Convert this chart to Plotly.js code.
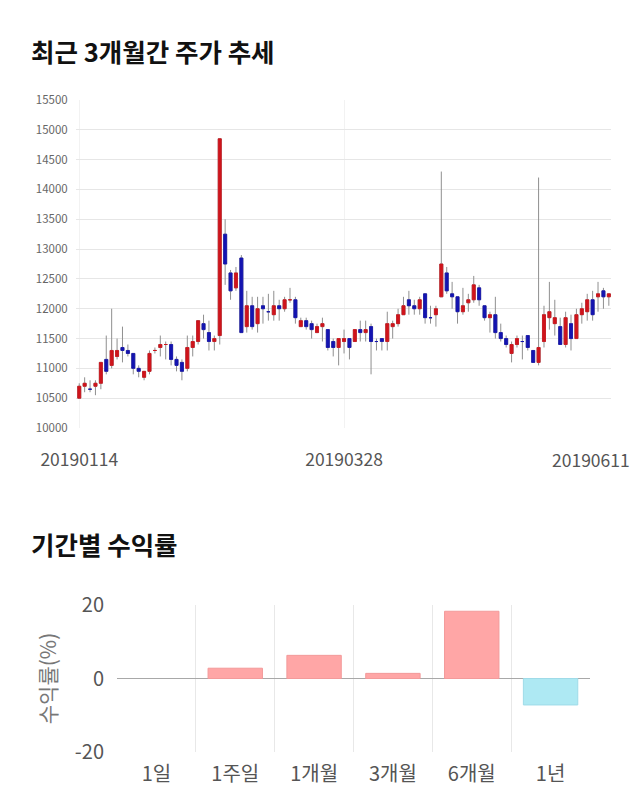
<!DOCTYPE html>
<html>
<head>
<meta charset="utf-8">
<script src="https://cdn.plot.ly/plotly-3.0.1.min.js"></script>
<style>
html,body{margin:0;padding:0;background:#fff;}
#chart{width:640px;height:810px;}
</style>
</head>
<body>
<div id="chart"></div>
<script>
// ---- Price chart data (KRW) ----
const tickLabels = ['20190114', '20190328', '20190611'];
const opens  = [10500,10700,10650,10700,10750,11150,11050,11200,11350,11300,
                11250,11000,10850,10950,11300,11350,11400,11400,11150,11100,
                11000,11350,11450,11750,11600,11450,11550,13250,12600,12350,
                12850,11700,12050,11750,12050,11950,11900,12050,12000,12150,
                12150,11700,11800,11750,11600,11700,11650,11450,11350,11450,
                11500,11450,11650,11600,11700,11450,11500,11450,11700,11750,
                11900,12150,12050,12000,12250,11850,11900,12200,12600,12250,
                12200,11950,12100,12150,12350,12050,11850,11900,11600,11500,
                11250,11400,11450,11550,11300,11100,11450,11850,11750,11700,
                11400,11750,11500,11900,11950,12150,12200,12300,12200];
const highs  = [10750,10850,10800,10800,11100,11550,12000,11500,11700,11400,
                11250,11050,10950,11300,11350,11550,11450,11450,11200,11150,
                11550,11550,11800,11900,11800,11550,14850,13500,12650,12700,
                12900,12300,12200,12200,12200,12250,12300,12150,12200,12350,
                12200,11850,11850,11800,11750,11850,11650,11500,11500,11650,
                11500,11650,11800,11800,11750,11500,11500,11950,11800,12000,
                12200,12300,12150,12200,12250,12050,12050,14300,12700,12450,
                12200,12350,12250,12550,12400,12050,11950,12200,11750,11550,
                11450,11550,11550,11550,11300,14200,12050,12450,12150,11850,
                11950,11900,12000,12100,12250,12300,12450,12350,12250];
const lows   = [10500,10600,10600,10550,10650,10900,11000,11150,11100,11200,
                10900,10850,10800,10900,11250,11200,11150,11050,10950,10800,
                10950,11200,11400,11500,11300,11300,11400,12400,12150,12300,
                11600,11600,11650,11600,11750,11800,11800,11800,11950,12100,
                11750,11700,11650,11500,11600,11450,11300,11200,11050,11250,
                11150,11450,11450,11450,10900,11300,11300,11300,11500,11700,
                11900,11900,11900,11900,11750,11750,11700,12200,12250,12000,
                11750,11900,11950,12100,12050,11800,11600,11500,11450,11350,
                11100,11350,11150,11300,11100,11050,11350,11650,11550,11400,
                11350,11300,11500,11750,11800,11800,11950,12000,12050];
const closes = [10700,10750,10650,10750,11100,10950,11300,11300,11300,11250,
                11000,10950,10950,11250,11300,11400,11400,11150,11050,10950,
                11350,11450,11800,11650,11450,11500,14850,12750,12300,12600,
                11600,12050,11700,12000,12000,11950,12050,12000,12150,12150,
                11850,11800,11700,11650,11700,11750,11350,11350,11500,11500,
                11350,11650,11600,11650,11450,11450,11450,11750,11750,11900,
                12050,12050,12000,12150,11850,11850,12000,12750,12300,12200,
                11950,12050,12150,12400,12150,11850,11900,11600,11500,11400,
                11400,11500,11450,11350,11100,11350,11900,11950,11850,11400,
                11850,11500,11900,12000,12150,11900,12250,12200,12250];

// ---- Period return data (%) ----
const periods = ['1일', '1주일', '1개월', '3개월', '6개월', '1년'];
const returns = [0, 2.8, 6.3, 1.4, 18.3, -7.2];
const returnTicks = [-20, 0, 20];
const returnTickLabels = ['-20', '0', '20'];

const W = 640, H = 810;
const px = v => v / W;
const py = v => 1 - v / H;

const idx = opens.map((_, i) => i);
const bodyHigh = opens.map((o, i) => Math.max(o, closes[i]));
const bodyLow  = opens.map((o, i) => Math.min(o, closes[i]));

const UP = '#cf141c', DOWN = '#1414b0', WICK = '#8f8f8f';
const KFONT = '"Noto Sans CJK KR", "Noto Sans", sans-serif';

const wicks = {
  type: 'candlestick', x: idx, open: opens, high: highs, low: lows, close: closes,
  xaxis: 'x', yaxis: 'y', whiskerwidth: 0, hoverinfo: 'skip',
  increasing: {line: {color: WICK, width: 1}, fillcolor: WICK},
  decreasing: {line: {color: WICK, width: 1}, fillcolor: WICK}
};
const bodies = {
  type: 'candlestick', x: idx, open: opens, high: bodyHigh, low: bodyLow, close: closes,
  xaxis: 'x', yaxis: 'y', whiskerwidth: 0, hoverinfo: 'skip',
  increasing: {line: {color: UP, width: 0.8}, fillcolor: UP},
  decreasing: {line: {color: DOWN, width: 0.8}, fillcolor: DOWN}
};
const bars = {
  type: 'bar', x: periods, y: returns, xaxis: 'x2', yaxis: 'y2',
  marker: {
    color: returns.map(v => v >= 0 ? '#ffa6a6' : '#aee9f3'),
    line: {
      color: returns.map(v => v >= 0 ? '#f39a9a' : '#9fdbe8'),
      width: returns.map(v => v === 0 ? 0 : 1)
    }
  },
  hoverinfo: 'skip'
};

const layout = {
  width: W, height: H,
  margin: {l: 0, r: 0, t: 0, b: 0},
  paper_bgcolor: '#fff', plot_bgcolor: '#fff',
  showlegend: false,
  boxgap: 0.2,
  bargap: 0.31,
  font: {family: KFONT, color: '#555'},
  xaxis: {
    domain: [px(76), px(611)], anchor: 'y',
    range: [-0.6, 98.4],
    rangeslider: {visible: false},
    tickvals: [0, 49], ticktext: [tickLabels[0], tickLabels[1]],
    showgrid: true, gridcolor: '#f2f2f2', zeroline: false, showline: false,
    ticks: 'outside', ticklen: 16, tickcolor: 'rgba(0,0,0,0)',
    tickfont: {size: 17.5, color: '#555', family: KFONT}
  },
  yaxis: {
    domain: [py(428), py(100)], anchor: 'x',
    range: [10000, 15500], dtick: 500, tick0: 10000, tickformat: 'd',
    showgrid: true, gridcolor: '#e6e6e6', zeroline: false, showline: false,
    ticks: 'outside', ticklen: 5, tickcolor: 'rgba(0,0,0,0)',
    tickfont: {size: 11.5, color: '#666', family: KFONT}
  },
  xaxis2: {
    domain: [px(117), px(590)], anchor: 'y2', type: 'category',
    tickson: 'boundaries',
    showgrid: true, gridcolor: '#e8e8e8', zeroline: false, showline: false,
    ticks: '', ticklabelstandoff: 8,
    tickfont: {size: 20, color: '#555', family: KFONT}
  },
  yaxis2: {
    domain: [py(752), py(605)], anchor: 'x2',
    range: [-20, 20], tickvals: returnTicks, ticktext: returnTickLabels,
    showgrid: true, gridcolor: '#e3e3e3',
    zeroline: true, zerolinecolor: '#a8a8a8', zerolinewidth: 1,
    showline: false,
    ticks: 'outside', ticklen: 8, tickcolor: 'rgba(0,0,0,0)',
    tickfont: {size: 20, color: '#555', family: KFONT},
    title: {text: '수익률(%)', font: {size: 21, color: '#777', family: KFONT}, standoff: 12}
  },
  annotations: [
    {text: '최근 3개월간 주가 추세', xref: 'paper', yref: 'paper',
     x: px(29), y: py(50), xanchor: 'left', yanchor: 'middle', showarrow: false,
     font: {size: 25.5, color: '#111', family: KFONT, weight: 700}},
    {text: '기간별 수익률', xref: 'paper', yref: 'paper',
     x: px(29), y: py(543), xanchor: 'left', yanchor: 'middle', showarrow: false,
     font: {size: 25.5, color: '#111', family: KFONT, weight: 700}},
    {text: tickLabels[2], xref: 'paper', yref: 'paper',
     x: px(632), y: py(459), xanchor: 'right', yanchor: 'middle', showarrow: false,
     font: {size: 17.5, color: '#555', family: KFONT}}
  ]
};

Plotly.newPlot('chart', [wicks, bodies, bars], layout, {staticPlot: true, displayModeBar: false});
</script>
</body>
</html>
